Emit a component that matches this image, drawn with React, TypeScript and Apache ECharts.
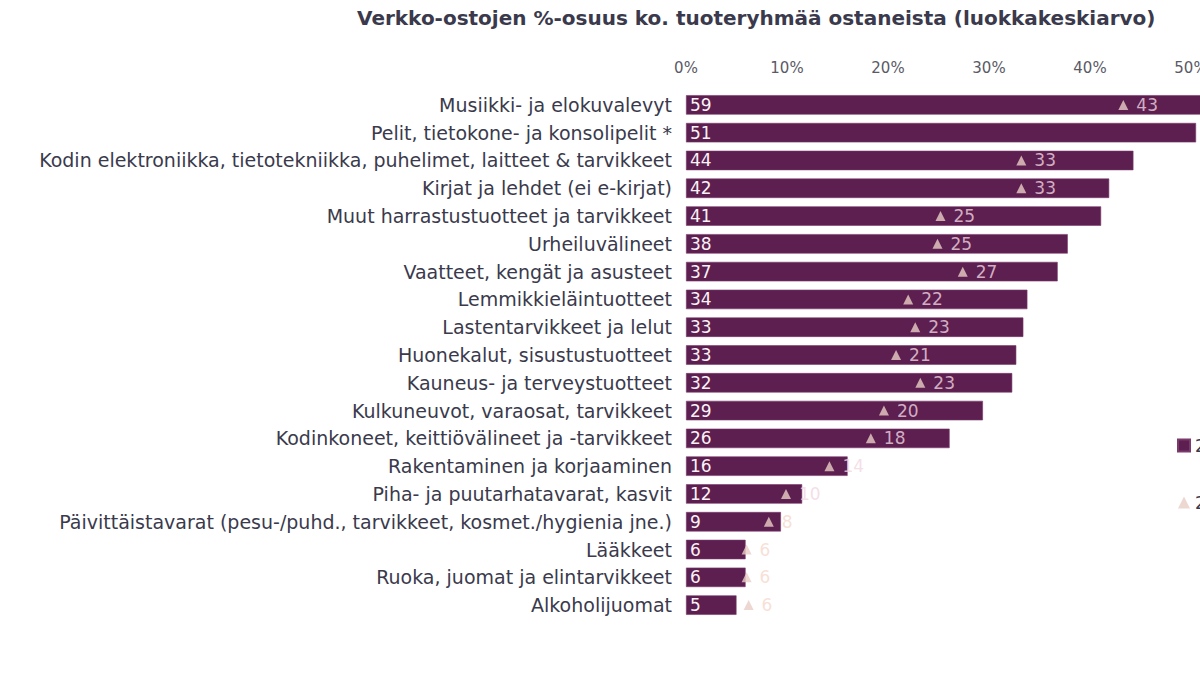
import React, { useEffect, useRef } from "react";
import * as echarts from "echarts";

const title = "Verkko-ostojen %-osuus ko. tuoteryhmää ostaneista (luokkakeskiarvo)";
const categories = [
  "Musiikki- ja elokuvalevyt",
  "Pelit, tietokone- ja konsolipelit *",
  "Kodin elektroniikka, tietotekniikka, puhelimet, laitteet & tarvikkeet",
  "Kirjat ja lehdet (ei e-kirjat)",
  "Muut harrastustuotteet ja tarvikkeet",
  "Urheiluvälineet",
  "Vaatteet, kengät ja asusteet",
  "Lemmikkieläintuotteet",
  "Lastentarvikkeet ja lelut",
  "Huonekalut, sisustustuotteet",
  "Kauneus- ja terveystuotteet",
  "Kulkuneuvot, varaosat, tarvikkeet",
  "Kodinkoneet, keittiövälineet ja -tarvikkeet",
  "Rakentaminen ja korjaaminen",
  "Piha- ja puutarhatavarat, kasvit",
  "Päivittäistavarat (pesu-/puhd., tarvikkeet, kosmet./hygienia jne.)",
  "Lääkkeet",
  "Ruoka, juomat ja elintarvikkeet",
  "Alkoholijuomat",
];
const currentYear = "2021";
const previousYear = "2020";
const currentValues = [59, 50.5, 44.3, 41.9, 41.1, 37.8, 36.8, 33.8, 33.4, 32.7, 32.3, 29.4, 26.1, 16.0, 11.5, 9.4, 5.9, 5.9, 5.0];
const currentLabels = [59, 51, 44, 42, 41, 38, 37, 34, 33, 33, 32, 29, 26, 16, 12, 9, 6, 6, 5];
const previousValues: (number | null)[] = [43.3, null, 33.2, 33.2, 25.2, 24.9, 27.4, 22.0, 22.7, 20.8, 23.2, 19.6, 18.3, 14.2, 9.9, 8.2, 6.0, 6.0, 6.2];
const previousLabels: (number | null)[] = [43, null, 33, 33, 25, 25, 27, 22, 23, 21, 23, 20, 18, 14, 10, 8, 6, 6, 6];
const tickValues = [0, 10, 20, 30, 40, 50, 60];
const shownTickMax = 50;

const FONT = "'DejaVu Sans', Verdana, sans-serif";
const BAR = "#5c1f4f";
const TRI = "#e8cdc6";

export default function App() {
  const ref = useRef<HTMLDivElement>(null);
  useEffect(() => {
    if (!ref.current) return;
    const chart = echarts.init(ref.current, undefined, { renderer: "svg" });
    chart.setOption({
      animation: false,
      backgroundColor: "#ffffff",
      textStyle: { fontFamily: FONT },
      title: {
        text: title,
        left: 352,
        top: 3,
        textStyle: { fontFamily: FONT, fontSize: 20, fontWeight: "bold", color: "#3a3a4c" },
      },
      legend: {
        orient: "vertical",
        left: 1172,
        top: 432,
        itemGap: 40,
        itemWidth: 12,
        itemHeight: 12,
        textStyle: { fontFamily: FONT, fontSize: 17, color: "#3a3a4c" },
        data: [
          { name: currentYear, icon: "rect", itemStyle: { color: BAR } },
          { name: previousYear, icon: "triangle", itemStyle: { color: TRI } },
        ],
      },
      grid: {
        left: 686,
        top: 91,
        width: 606,
        height: 528,
        containLabel: false,
        outerBoundsMode: "none",
      },
      xAxis: {
        type: "value",
        position: "top",
        min: tickValues[0],
        max: tickValues[tickValues.length - 1],
        interval: 10,
        axisLine: { show: false },
        axisTick: { show: false },
        splitLine: { show: false },
        axisLabel: {
          formatter: (v: number) => (v <= shownTickMax ? `${v}%` : ""),
          color: "#5a5a66",
          fontSize: 15,
          margin: 16,
          fontFamily: FONT,
        },
      },
      yAxis: {
        type: "category",
        inverse: true,
        data: categories,
        axisLine: { show: false },
        axisTick: { show: false },
        axisLabel: { color: "#3a3a4c", fontSize: 19, margin: 14, fontFamily: FONT },
      },
      series: [
        {
          name: currentYear,
          type: "bar",
          barCategoryGap: "30%",
          itemStyle: { color: BAR, borderColor: "#7a3a6c", borderWidth: 0.6 },
          data: currentValues.map((v, i) => ({
            value: v,
            label: {
              show: true,
              position: "insideLeft",
              distance: 4,
              formatter: String(currentLabels[i]),
              color: "#fbf2f6",
              fontSize: 17,
              fontFamily: FONT,
            },
          })),
          z: 1,
        },
        {
          name: previousYear,
          type: "scatter",
          symbol: "triangle",
          symbolSize: 10,
          itemStyle: { color: TRI },
          data: previousValues.map((v, i) =>
            v == null
              ? { value: [null, categories[i]] }
              : {
                  value: [v, categories[i]],
                  label: {
                    show: true,
                    position: "right",
                    distance: 8,
                    formatter: String(previousLabels[i]),
                    color: v + 1.5 < currentValues[i] ? "#f2d6e2" : "#f6d8cc",
                    fontSize: 17,
                    fontFamily: FONT,
                  },
                }
          ),
          z: 3,
        },
      ],
    });
    return () => chart.dispose();
  }, []);
  return (
    <div
      ref={ref}
      style={{ position: "fixed", left: 0, top: 0, width: 1200, height: 675, background: "#fff" }}
    />
  );
}
